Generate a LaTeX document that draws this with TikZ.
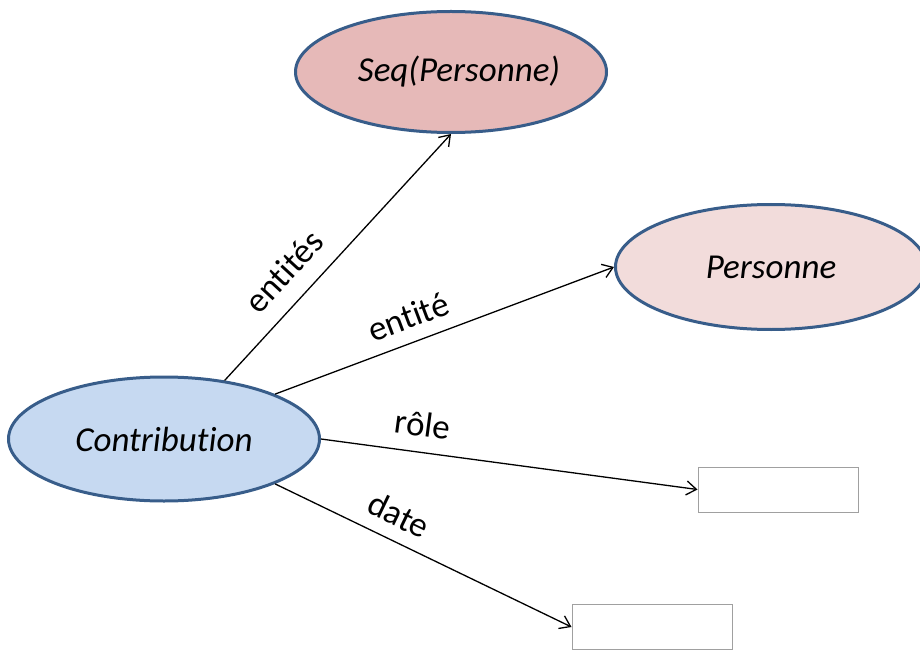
\documentclass[tikz,border=0pt]{standalone}
\usepackage{fontspec}
\setmainfont{Carlito}[Ligatures=NoCommon]
\usetikzlibrary{shapes.geometric,arrows.meta}
\definecolor{darkblue}{RGB}{56,93,138}
\definecolor{lightblue}{RGB}{198,217,241}
\definecolor{darkpink}{RGB}{230,185,184}
\definecolor{lightpink}{RGB}{242,220,219}
\definecolor{boxgray}{RGB}{160,160,160}

\begin{document}
\begin{tikzpicture}[x=1pt,y=-1pt,
    classe/.style={draw=darkblue,line width=3pt,ellipse,minimum width=311pt,minimum height=124pt,font=\fontsize{35}{42}\selectfont\itshape},
    valeur/.style={draw=boxgray,line width=1pt,fill=white,rectangle,minimum width=160pt,minimum height=45pt},
    lien/.style={-{Straight Barb[length=10pt,width=14pt]},line width=1.3pt},
    etiq/.style={font=\fontsize{35}{42}\selectfont,sloped,inner sep=3pt}]
    \clip (0,0) rectangle (920,652);

    % Classes
    \node[classe,fill=lightblue] (contribution) at (164,439) {Contribution};
    \node[classe,fill=darkpink,minimum height=121pt,inner xsep=0pt] (seqpers) at (451,72) {\hspace*{16pt}Seq(Personne)};
    \node[classe,fill=lightpink,minimum height=125pt] (personne) at (771,267) {Personne};

    % Valeurs
    \node[valeur] (rolebox) at (778,489.5) {};
    \node[valeur] (datebox) at (652,627) {};

    % Arrows
    \draw[lien] (contribution.44) -- node[etiq,pos=0.36,above=14pt] {entités} (seqpers.south);
    \draw[lien] (contribution.22.5) -- node[etiq,pos=0.42,above=10pt] {entité} (personne.west);
    \draw[lien] (contribution.east) -- node[etiq,pos=0.26,above=12pt] {rôle} (rolebox.west);
    \draw[lien] (contribution.-22) -- node[etiq,pos=0.38,above=10pt] {date} (datebox.west);
\end{tikzpicture}
\end{document}
